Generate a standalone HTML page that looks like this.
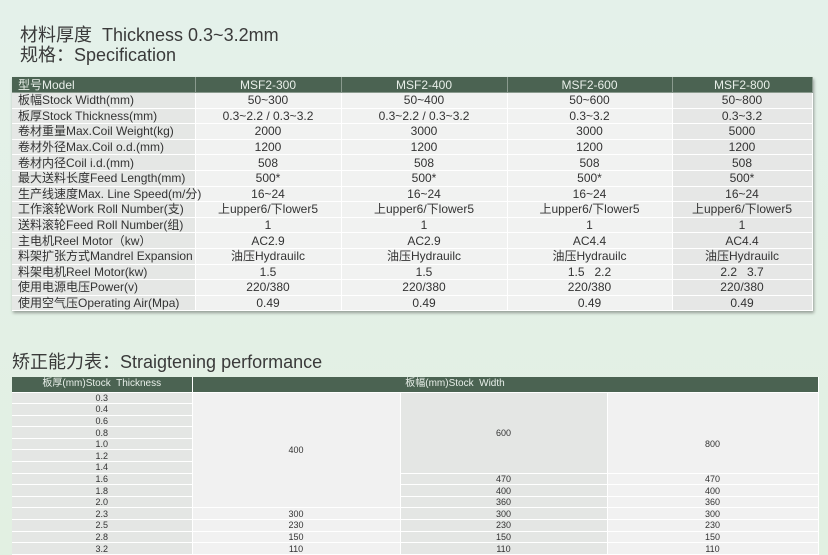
<!DOCTYPE html>
<html><head><meta charset="utf-8">
<style>
*{margin:0;padding:0;box-sizing:border-box}
body{width:828px;height:555px;overflow:hidden;background:linear-gradient(180deg,#e4f1ea 0%,#e2f0e2 100%);font-family:"Liberation Sans","Noto Sans CJK SC",sans-serif;position:relative;color:#333}
.t{position:absolute;font-size:18px;color:#3a3a3a;white-space:nowrap}
table{position:absolute;border-collapse:collapse;table-layout:fixed}
#spec{left:12px;top:77px;width:800px;font-size:12px;box-shadow:1px 2px 3px rgba(0,0,0,.35)}
#spec td{box-sizing:content-box;height:14.6px;line-height:14px;text-align:center;border:1px solid #fff;border-width:0 1px 1px 0;background:#f1f2f1;color:#333;padding:0;white-space:nowrap}
#spec td.l{text-align:left;padding-left:6px;background:#e5e7e5}
#spec td.c4{background:#e6e7e6}
#spec tr.h td{background:#4b6352;color:#e8efe9;height:15px;border-color:#8a9a8e}
#perf{left:12px;top:377px;width:806px;font-size:9px}
#perf td{height:11.6px;line-height:10px;text-align:center;border:1px solid #fff;border-width:0 1px 1px 0;background:#f1f1f1;color:#333;padding:0}
#perf td.l{background:#e4e6e4}
#perf td.g{background:#e4e6e4}
#perf tr.h td{background:#4b6352;color:#e8efe9;height:15px;font-size:10px}
</style></head><body>
<div class="t" style="left:20px;top:21px">材料厚度&nbsp; Thickness 0.3~3.2mm</div>
<div class="t" style="left:20px;top:41px">规格：Specification</div>
<table id="spec">
<colgroup><col style="width:183px"><col style="width:146px"><col style="width:166px"><col style="width:165px"><col style="width:140px"></colgroup>
<tr class="h"><td class="l" style="background:#4b6352">型号Model</td><td>MSF2-300</td><td>MSF2-400</td><td>MSF2-600</td><td>MSF2-800</td></tr>
<tr><td class="l">板幅Stock Width(mm)</td><td>50~300</td><td>50~400</td><td>50~600</td><td class="c4">50~800</td></tr>
<tr><td class="l">板厚Stock Thickness(mm)</td><td>0.3~2.2 / 0.3~3.2</td><td>0.3~2.2 / 0.3~3.2</td><td>0.3~3.2</td><td class="c4">0.3~3.2</td></tr>
<tr><td class="l">卷材重量Max.Coil Weight(kg)</td><td>2000</td><td>3000</td><td>3000</td><td class="c4">5000</td></tr>
<tr><td class="l">卷材外径Max.Coil o.d.(mm)</td><td>1200</td><td>1200</td><td>1200</td><td class="c4">1200</td></tr>
<tr><td class="l">卷材内径Coil i.d.(mm)</td><td>508</td><td>508</td><td>508</td><td class="c4">508</td></tr>
<tr><td class="l">最大送料长度Feed Length(mm)</td><td>500*</td><td>500*</td><td>500*</td><td class="c4">500*</td></tr>
<tr><td class="l">生产线速度Max. Line Speed(m/分)</td><td>16~24</td><td>16~24</td><td>16~24</td><td class="c4">16~24</td></tr>
<tr><td class="l">工作滚轮Work Roll Number(支)</td><td>上upper6/下lower5</td><td>上upper6/下lower5</td><td>上upper6/下lower5</td><td class="c4">上upper6/下lower5</td></tr>
<tr><td class="l">送料滚轮Feed Roll Number(组)</td><td>1</td><td>1</td><td>1</td><td class="c4">1</td></tr>
<tr><td class="l">主电机Reel Motor（kw）</td><td>AC2.9</td><td>AC2.9</td><td>AC4.4</td><td class="c4">AC4.4</td></tr>
<tr><td class="l">料架扩张方式Mandrel Expansion</td><td>油压Hydrauilc</td><td>油压Hydrauilc</td><td>油压Hydrauilc</td><td class="c4">油压Hydrauilc</td></tr>
<tr><td class="l">料架电机Reel Motor(kw)</td><td>1.5</td><td>1.5</td><td>1.5&nbsp;&nbsp;&nbsp;2.2</td><td class="c4">2.2&nbsp;&nbsp;&nbsp;3.7</td></tr>
<tr><td class="l">使用电源电压Power(v)</td><td>220/380</td><td>220/380</td><td>220/380</td><td class="c4">220/380</td></tr>
<tr><td class="l">使用空气压Operating Air(Mpa)</td><td>0.49</td><td>0.49</td><td>0.49</td><td class="c4">0.49</td></tr>
</table>
<div class="t" style="left:12px;top:348px">矫正能力表：Straigtening performance</div>
<table id="perf">
<colgroup><col style="width:180px"><col style="width:208px"><col style="width:207px"><col style="width:211px"></colgroup>
<tr class="h"><td>板厚(mm)Stock&nbsp; Thickness</td><td colspan="3"><span style="position:relative;left:-50px">板幅(mm)Stock&nbsp; Width</span></td></tr>
<tr><td class="l">0.3</td><td rowspan="10">400</td><td rowspan="7" class="g">600</td><td rowspan="7"><span style="position:relative;top:11px">800</span></td></tr>
<tr><td class="l">0.4</td></tr>
<tr><td class="l">0.6</td></tr>
<tr><td class="l">0.8</td></tr>
<tr><td class="l">1.0</td></tr>
<tr><td class="l">1.2</td></tr>
<tr><td class="l">1.4</td></tr>
<tr><td class="l">1.6</td><td class="g">470</td><td>470</td></tr>
<tr><td class="l">1.8</td><td class="g">400</td><td>400</td></tr>
<tr><td class="l">2.0</td><td class="g">360</td><td>360</td></tr>
<tr><td class="l">2.3</td><td>300</td><td class="g">300</td><td>300</td></tr>
<tr><td class="l">2.5</td><td>230</td><td class="g">230</td><td>230</td></tr>
<tr><td class="l">2.8</td><td>150</td><td class="g">150</td><td>150</td></tr>
<tr><td class="l">3.2</td><td>110</td><td class="g">110</td><td>110</td></tr>
</table>
</body></html>
